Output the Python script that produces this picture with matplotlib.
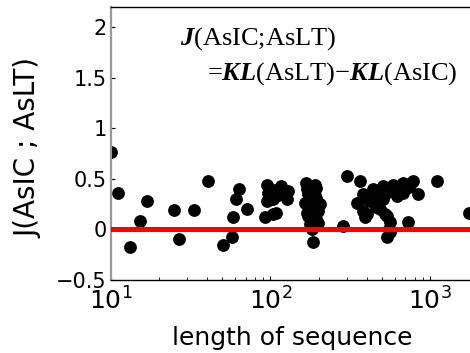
import matplotlib
matplotlib.use("Agg")
import matplotlib.pyplot as plt
import numpy as np

plt.rcParams['font.family'] = ['DejaVu Sans']
plt.rcParams['mathtext.fontset'] = 'custom'
plt.rcParams['mathtext.it'] = 'Liberation Serif:italic:bold'
plt.rcParams['mathtext.rm'] = 'Liberation Serif'

# data: sequence length vs J(AsIC;AsLT)
seq_len = [10, 11, 13.1, 15.1, 16.9, 24.9, 26.5, 33.3, 40.8, 50.6, 57.2, 58.0, 61.2, 63.5, 71,
           94.6, 117, 129, 126, 97, 94.6, 109, 92, 109, 112, 104, 100, 120, 104,
           168, 194, 173, 194, 173, 194, 173, 194, 177, 181, 185, 204, 164, 188, 178,
           170, 190, 175, 198, 170, 198, 190,
           286, 301, 364,
           382, 441, 510, 589, 681, 786, 347, 421, 510, 617, 681, 844,
           391, 382, 535, 561, 485, 535, 561, 731, 460, 420, 600, 740,
           400, 450, 470, 530, 560, 640, 720, 760, 405, 520, 550,
           1100, 1750]
j_value = [0.77, 0.36, -0.17, 0.08, 0.28, 0.19, -0.09, 0.19, 0.48, -0.15, -0.07, 0.12, 0.30, 0.40, 0.20,
           0.44, 0.43, 0.38, 0.30, 0.36, 0.28, 0.33, 0.12, 0.16, 0.40, 0.15, 0.40, 0.35, 0.30,
           0.46, 0.41, 0.35, 0.31, 0.23, 0.20, 0.13, 0.10, 0.05, 0.0, -0.12, 0.25, 0.26, 0.38, 0.18,
           0.40, 0.33, 0.28, 0.18, 0.16, 0.06, 0.44,
           0.03, 0.53, 0.48,
           0.35, 0.40, 0.43, 0.44, 0.46, 0.48, 0.26, 0.28, 0.30, 0.33, 0.36, 0.35,
           0.12, 0.18, 0.13, 0.07, 0.20, -0.07, -0.03, 0.07, 0.22, 0.32, 0.38, 0.42,
           0.30, 0.32, 0.38, 0.36, 0.40, 0.41, 0.44, 0.46, 0.15, 0.15, 0.0,
           0.48, 0.16]

y_ticks = [-0.5, 0, 0.5, 1, 1.5, 2]
y_tick_labels = ['\u22120.5', '0', '0.5', '1', '1.5', '2']

fig = plt.figure(figsize=(4.70, 3.53), dpi=100)
ax = fig.add_axes([111/470, 73/353, 367/470, 273/353])

ax.scatter(seq_len, j_value, s=85, color='black', zorder=2, linewidths=0, clip_on=True)
ax.axhline(0, color='#ff0000', lw=3.6, zorder=3)

ax.set_xscale('log')
ax.set_xlim(10, 2000)
ax.set_ylim(-0.5, 2.2)
ax.set_yticks(y_ticks)
ax.set_yticklabels(y_tick_labels)

ax.tick_params(axis='y', direction='in', length=3, labelsize=15, pad=3)
ax.tick_params(axis='x', which='major', direction='in', length=3, labelsize=18, pad=5)
ax.tick_params(axis='x', which='minor', direction='in', length=2)

ax.spines['left'].set_color('#999999')
ax.spines['left'].set_linewidth(1.6)
ax.spines['bottom'].set_linewidth(1.0)
ax.spines['top'].set_linewidth(1.0)

ax.set_xlabel('length of sequence', fontsize=18)
ax.xaxis.set_label_coords(0.493, -0.170)
ax.set_ylabel('J(AsIC ; AsLT)', fontsize=20)
ax.yaxis.set_label_coords(-0.188, 0.485)

fig.text(180/470, 1 - 25/353, r'$J$(AsIC;AsLT)', family='Liberation Serif',
         fontsize=19, va='top', ha='left')
fig.text(207/470, 1 - 60/353, r'=$KL$(AsLT)' + '\u2212' + r'$KL$(AsIC)', family='Liberation Serif',
         fontsize=19, va='top', ha='left')

fig.savefig('out.png', dpi=100)
